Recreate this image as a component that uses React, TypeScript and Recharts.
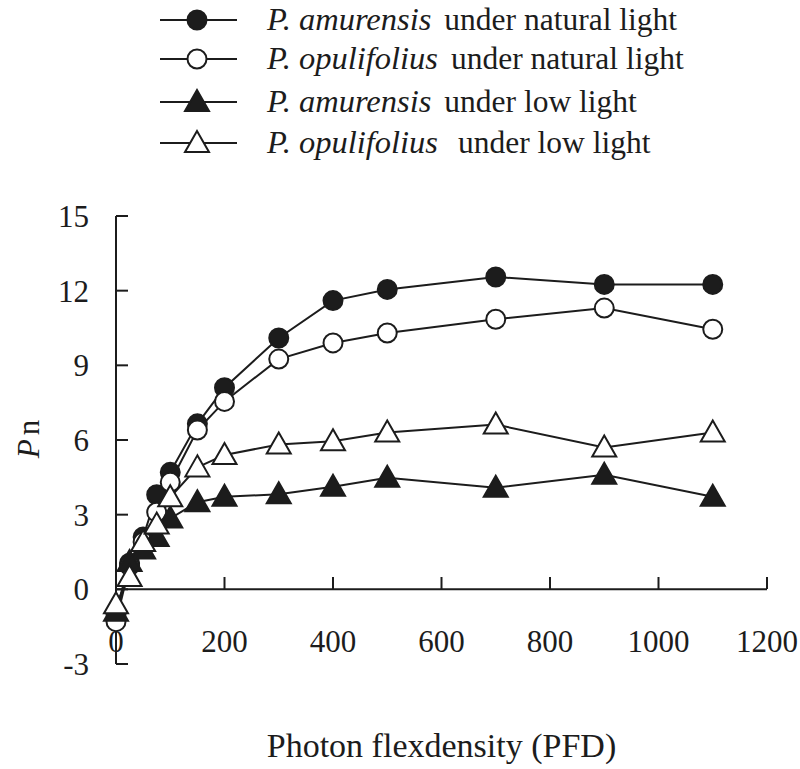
import React from 'react';
import { LineChart, Line, XAxis, YAxis, ReferenceLine, Legend } from 'recharts';

// PFD levels and net photosynthesis readings
const pfd = [0, 25, 50, 75, 100, 150, 200, 300, 400, 500, 700, 900, 1100];
const amurNatural = [-1.0, 1.05, 2.1, 3.8, 4.7, 6.65, 8.1, 10.1, 11.6, 12.05, 12.55, 12.25, 12.25];
const opuNatural = [-1.3, 0.95, 1.9, 3.1, 4.3, 6.4, 7.55, 9.25, 9.9, 10.3, 10.85, 11.3, 10.45];
const amurLow = [-0.9, 1.1, 1.6, 2.1, 2.85, 3.5, 3.72, 3.82, 4.12, 4.48, 4.08, 4.6, 3.72];
const opuLow = [-0.6, 0.5, 1.9, 2.6, 3.7, 4.9, 5.4, 5.82, 5.95, 6.3, 6.62, 5.7, 6.3];

const xTicks = [0, 200, 400, 600, 800, 1000, 1200];
const yTicks = [-3, 0, 3, 6, 9, 12, 15];

const speciesLabels = ['P. amurensis', 'P. opulifolius', 'P. amurensis', 'P. opulifolius'];
const conditionLabels = ['under natural light', 'under natural light', 'under low light', 'under low light'];

const FONT = "'Liberation Serif', Tinos, 'Times New Roman', 'DejaVu Serif', serif";
const INK = '#1c1c1c';
const txt = { fontFamily: FONT };

const series = [
  { key: 'an', shape: 'circle', filled: true },
  { key: 'on', shape: 'circle', filled: false },
  { key: 'al', shape: 'triangle', filled: true },
  { key: 'ol', shape: 'triangle', filled: false },
];

const data = pfd.map((x, i) => ({
  x,
  an: amurNatural[i],
  on: opuNatural[i],
  al: amurLow[i],
  ol: opuLow[i],
}));

function Marker({ cx, cy, shape, filled }: any) {
  const fill = filled ? INK : '#fff';
  if (shape === 'circle') {
    return <circle cx={cx} cy={cy} r={9.5} fill={fill} stroke={INK} strokeWidth={2} />;
  }
  const pts = `${cx},${cy - 12} ${cx - 12},${cy + 9} ${cx + 12},${cy + 9}`;
  return <polygon points={pts} fill={fill} stroke={INK} strokeWidth={2} strokeLinejoin="miter" />;
}

const makeDot = (shape: string, filled: boolean) => (props: any) => {
  const { cx, cy, index } = props;
  if (cx == null || cy == null) return <g key={index} />;
  return <Marker key={index} cx={cx} cy={cy} shape={shape} filled={filled} />;
};

const XTick = ({ x, y, payload }: any) => (
  <g>
    {/* tick mark sits on the zero line, label stays down below */}
    <line x1={x} y1={y - 75} x2={x} y2={y - 87} stroke={INK} strokeWidth={2} />
    <text x={x} y={y - 12} textAnchor="middle" style={txt} fontSize={31} fill={INK}>
      {payload.value}
    </text>
  </g>
);

const YTick = ({ x, y, payload }: any) => (
  <g>
    <line x1={x} y1={y} x2={x + 12} y2={y} stroke={INK} strokeWidth={2} />
    <text x={x - 27} y={y + 11} textAnchor="end" style={txt} fontSize={31} fill={INK}>
      {payload.value}
    </text>
  </g>
);

const XTitle = ({ viewBox }: any) => (
  <text
    x={viewBox.x + viewBox.width / 2}
    y={757}
    textAnchor="middle"
    style={txt}
    fontSize={34}
    fill={INK}
  >
    Photon flexdensity (PFD)
  </text>
);

const YTitle = () => (
  <text x={0} y={0} transform="translate(39, 439) rotate(-90)" textAnchor="middle" style={txt} fontSize={31} fill={INK}>
    <tspan fontStyle="italic">P</tspan>
    <tspan dx={4}>n</tspan>
  </text>
);

const LegendBox = () => {
  const rowY = [20, 59, 102, 143];
  return (
    <svg width={800} height={165} style={{ display: 'block' }}>
      {series.map((s, i) => (
        <g key={s.key}>
          <line x1={160} y1={rowY[i]} x2={237} y2={rowY[i]} stroke={INK} strokeWidth={2} />
          <Marker cx={197} cy={rowY[i]} shape={s.shape} filled={s.filled} />
          <text x={267} y={rowY[i] + 10} style={txt} fontSize={31.5} fill={INK}>
            <tspan fontStyle="italic" fontSize={32.5}>{speciesLabels[i]}</tspan>
            <tspan dx={i === 3 ? 20 : 13}>{conditionLabels[i]}</tspan>
          </text>
        </g>
      ))}
    </svg>
  );
};

export default function App() {
  return (
    <div style={{ position: 'absolute', left: 0, top: 0, width: 800, height: 769, background: '#fff' }}>
      <LineChart
        width={800}
        height={769}
        data={data}
        margin={{ top: 216, right: 33, bottom: 75, left: 16 }}
      >
        <XAxis
          type="number"
          dataKey="x"
          domain={[0, 1200]}
          ticks={xTicks}
          axisLine={false}
          tickLine={false}
          tickSize={0}
          tickMargin={0}
          height={30}
          tick={<XTick />}
          interval={0}
          label={<XTitle />}
        />
        <YAxis
          type="number"
          domain={[-3, 15]}
          ticks={yTicks}
          width={100}
          axisLine={{ stroke: INK, strokeWidth: 2 }}
          tickLine={false}
          tickSize={0}
          tickMargin={0}
          tick={<YTick />}
          interval={0}
          label={<YTitle />}
        />
        <ReferenceLine y={0} stroke={INK} strokeWidth={2} />
        <Legend
          layout="vertical"
          align="center"
          verticalAlign="middle"
          wrapperStyle={{ position: 'absolute', top: 0, left: 0, width: 800 }}
          content={<LegendBox />}
        />
        {series.map((s) => (
          <Line
            key={s.key}
            type="linear"
            dataKey={s.key}
            stroke={INK}
            strokeWidth={2}
            dot={makeDot(s.shape, s.filled)}
            activeDot={false}
            isAnimationActive={false}
          />
        ))}
      </LineChart>
    </div>
  );
}
